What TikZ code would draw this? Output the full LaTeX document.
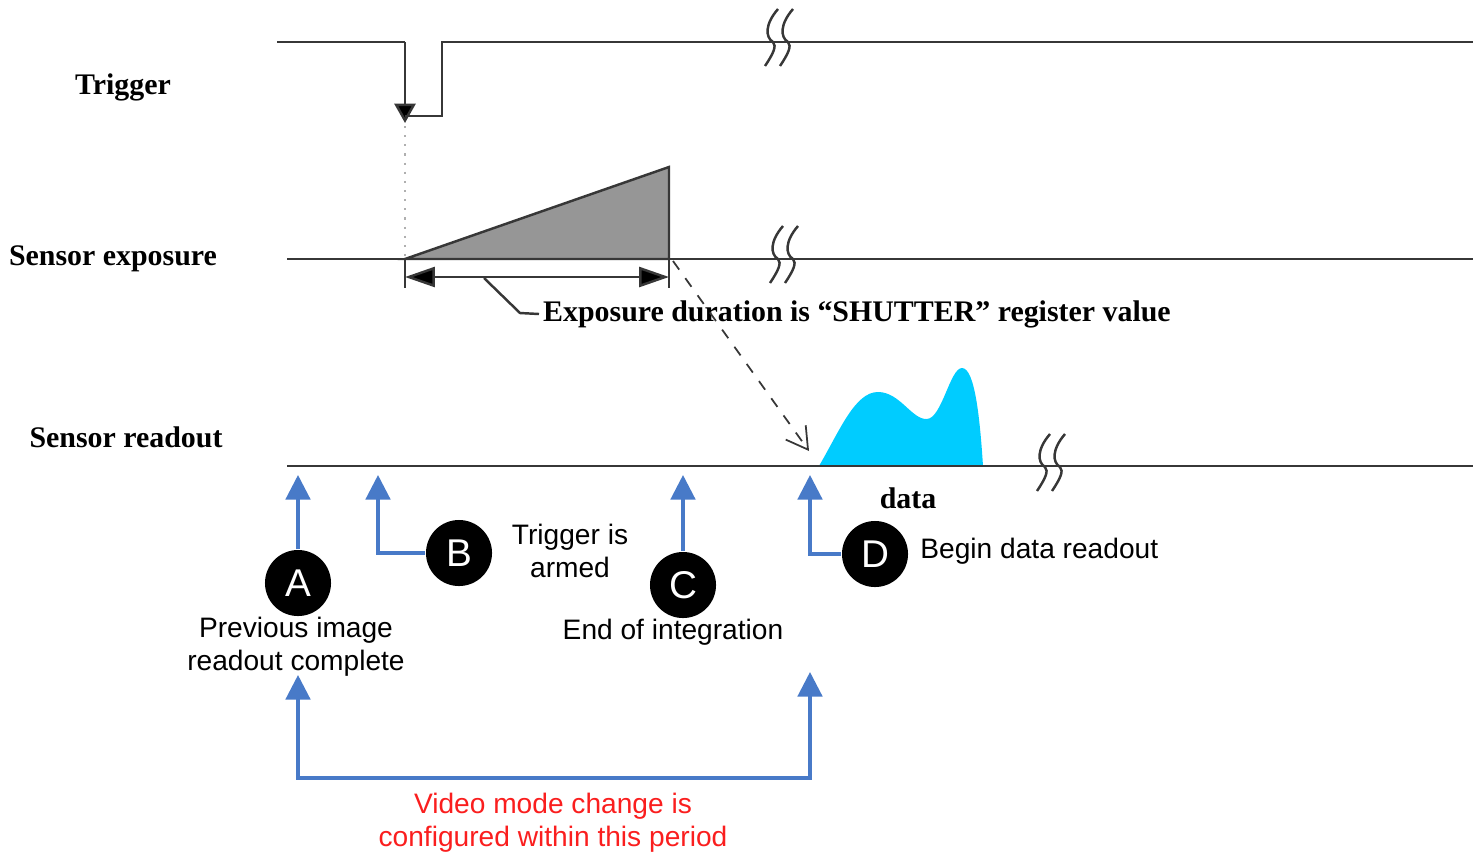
\documentclass[tikz,border=0pt]{standalone}
\usepackage{fontspec}
\setmainfont{Liberation Serif}
\setsansfont{Liberation Sans}
\usetikzlibrary{arrows.meta,positioning}
\definecolor{sigGray}{RGB}{55,55,55}
\definecolor{fillGray}{RGB}{150,150,150}
\definecolor{dataCyan}{RGB}{0,204,255}
\definecolor{evBlue}{RGB}{72,122,200}
\definecolor{noteRed}{RGB}{250,30,30}
\tikzset{
  sig/.style={draw=sigGray, line width=0.7pt},
  evarrow/.style={draw=evBlue, line width=0.9pt, -{Triangle[width=7pt,length=7pt]}},
  evmark/.style={circle, fill=black, text=white, inner sep=0pt, minimum size=0.66cm,
    font=\sffamily\fontsize{11}{11}\selectfont},
  siglabel/.style={font=\bfseries\fontsize{8.5}{10}\selectfont},
  note/.style={font=\sffamily\fontsize{8}{9.4}\selectfont, align=center},
  breakmark/.pic={\draw[sig] (5,-33) .. controls (-8,-18) and (-8,-5) .. (0,0)
    .. controls (4,4) and (0,12) .. (-8,24);}
}
\begin{document}
\begin{tikzpicture}[x=0.01cm, y=-0.01cm]
      \useasboundingbox (0,0) rectangle (1473,857);

      % trigger
      \draw[sig] (277,42) -- (405,42);
      \draw[sig, -{Triangle[width=6pt,length=5.5pt,fill=black]}] (405,42) -- (405,123);
      \draw[sig] (405,116) -- (442,116) -- (442,42) -- (1473,42);
      \draw[sigGray!40, dotted, line width=0.6pt] (405,126) -- (405,257);
      \foreach \bx in {773,788} \pic at (\bx,42) {breakmark};

      % exposure
      \draw[sig, fill=fillGray] (405,259) -- (669,167) -- (669,259) -- cycle;
      \draw[sig] (287,259) -- (1473,259);
      \draw[sig] (405,259) -- (405,288);
      \draw[sig] (669,259) -- (669,288);
      \draw[sig, {Triangle[length=8.5pt,width=5.7pt,fill=black]}-{Triangle[length=8.5pt,width=5.7pt,fill=black]}] (405,277) -- (669,277);
      \foreach \bx in {778,793} \pic at (\bx,259) {breakmark};

      \node[siglabel, anchor=west, inner sep=1pt] (shut) at (539,314) {Exposure duration is “SHUTTER” register value};
      \draw[sig] (484,278) -- (520,313) -- (shut.west);

      % readout
      \fill[dataCyan] (819,466) .. controls (840,430) and (855,392) .. (878,392)
        .. controls (900,392) and (912,420) .. (927,419)
        .. controls (942,418) and (950,368) .. (962,368)
        .. controls (975,368) and (980,420) .. (983,466) -- cycle;
      \draw[sig] (287,466) -- (1473,466);
      \foreach \bx in {1045,1060} \pic at (\bx,467) {breakmark};
      \draw[sigGray, dashed, line width=0.5pt, -{Straight Barb[length=6pt,width=7pt]}] (673,261) -- (809,451);
      \node[siglabel] (data) at (908,498) {data};

      \node[siglabel] (trig) at (123,87) {Trigger};
      \node[siglabel] (expo) at (113,259) {Sensor exposure};
      \node[siglabel] (read) at (126,437) {Sensor readout};

      % events
      \node[evmark] (A) at (298,583) {A};
      \node[evmark] (B) at (459,553) {B};
      \node[evmark] (C) at (683,585) {C};
      \node[evmark] (D) at (875,554) {D};
      \coordinate (A tip) at (298,475);
      \coordinate (B tip) at (378,475);
      \coordinate (C tip) at (683,475);
      \coordinate (D tip) at (810,475);
      \draw[evarrow] (A) -- (A tip);
      \draw[evarrow] (B) -| (B tip);
      \draw[evarrow] (C) -- (C tip);
      \draw[evarrow] (D) -| (D tip);

      \node[note] (prev) at (296,647) {Previous image\\readout complete};
      \node[note] (armed) at (570,551) {Trigger is\\armed};
      \node[note] (endint) at (673,632) {End of integration};
      \node[note, anchor=west] (begin) at (908,551) {Begin data readout};

      % video mode period
      \coordinate (P left) at (298,675);
      \coordinate (P right) at (810,672);
      \coordinate (P bl) at (298,778);
      \coordinate (P br) at (810,778);
      \draw[evarrow, {Triangle[width=7pt,length=7pt]}-{Triangle[width=7pt,length=7pt]}] (P left) -- (P bl) -- (P br) -- (P right);
      \node[note, text=noteRed] (vmode) at (553,823) {Video mode change is\\configured within this period};
\end{tikzpicture}
\end{document}
